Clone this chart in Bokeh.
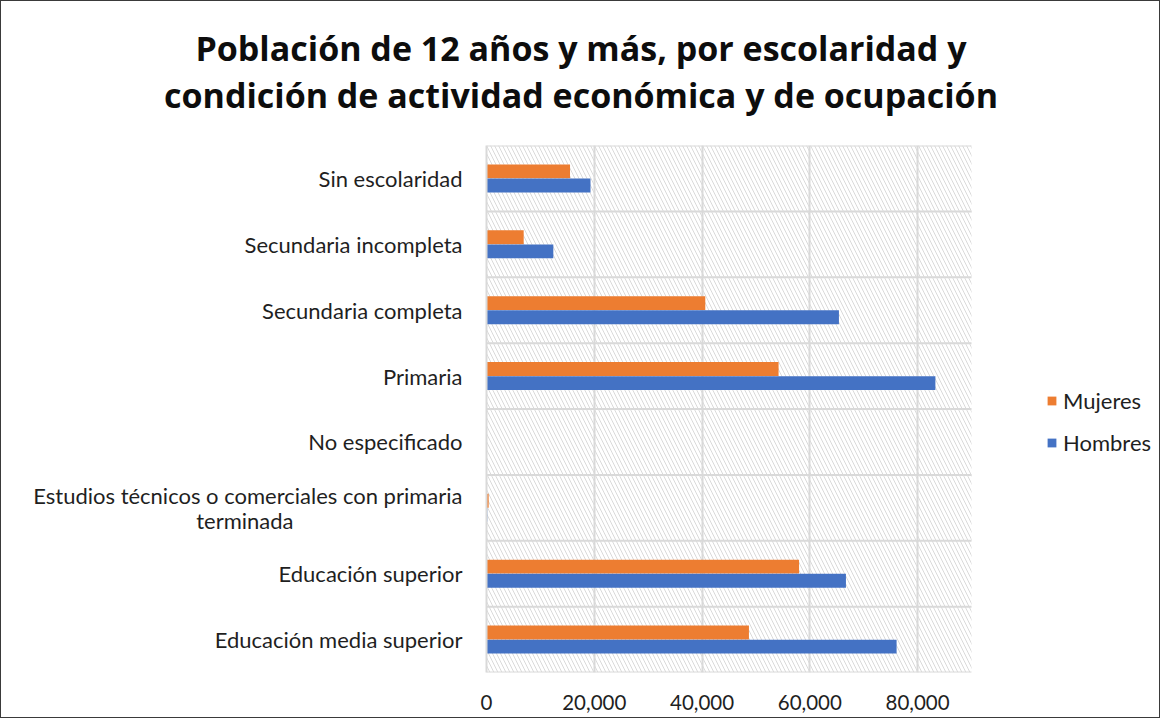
from bokeh.plotting import figure
from bokeh.layouts import column
from bokeh.models import (FactorRange, Range1d, BoxAnnotation, Legend, LegendItem, Div,
                          NumeralTickFormatter, FixedTicker, ColumnDataSource)
from bokeh.transform import dodge
from bokeh.embed import file_html
from bokeh.resources import INLINE

categories = [
    "Educación media superior",
    "Educación superior",
    "Estudios técnicos o comerciales con primaria\nterminada",
    "No especificado",
    "Primaria",
    "Secundaria completa",
    "Secundaria incompleta",
    "Sin escolaridad",
]
mujeres = [48700, 58000, 400, 0, 54200, 40600, 6900, 15500]
hombres = [76100, 66700, 150, 0, 83300, 65400, 12400, 19300]
x_ticks = [0, 20000, 40000, 60000, 80000]
x_max = 90000
title_lines = ["Población de 12 años y más, por escolaridad y",
               "condición de actividad económica y de ocupación"]
series_names = ["Mujeres", "Hombres"]
colors = ["#ED7D31", "#4472C4"]

FONT = "Lato"
TFONT = "Open Sans"
TXT = "#1f1f1f"
BORDER = "1.5px solid #3a3a3a"

# layout (pixels)
W, H = 1160, 718
TITLE_H = 140
LEFT, TOP, BOTTOM = 485, 5, 46
PLOT_W = 485                      # width of the hatched plot area
x_end = x_max * (W - LEFT) / PLOT_W   # frame continues to the right to host the legend

# the wrapped label's second line is centred under the first one in the reference:
# pad it so that a right-aligned axis label puts it there
factors = [c + "\u00a0" * 30 if "\n" in c else c for c in categories]

src = ColumnDataSource(dict(cat=factors, mujeres=mujeres, hombres=hombres))

title_div = Div(
    text=(f'<div style="font-family:\'{TFONT}\';font-weight:700;font-size:34px;line-height:47px;'
          f'color:#0d0d0d;text-align:center;padding:24px 0 0 26px;width:{W - 26}px;">'
          f'{title_lines[0]}<br>{title_lines[1]}</div>'),
    width=W, height=TITLE_H, margin=0,
    styles={"border": BORDER, "border-bottom": "none", "box-sizing": "border-box",
            "background-color": "white"})

p = figure(width=W, height=H - TITLE_H, y_range=FactorRange(*factors), x_range=Range1d(0, x_end),
           output_backend="svg", toolbar_location=None, title_location=None,
           min_border_left=LEFT, min_border_right=0, min_border_top=TOP, min_border_bottom=BOTTOM)
p.styles = {"border": BORDER, "border-top": "none", "box-sizing": "border-box"}
p.outline_line_color = None
p.background_fill_color = "white"
p.border_fill_color = "white"

# hatch background of the plot area
p.add_layout(BoxAnnotation(left=0, right=x_max, fill_alpha=0, line_alpha=0, hatch_pattern="\\",
                           hatch_color="#dadada", hatch_scale=8, hatch_weight=1, hatch_alpha=1,
                           level="underlay"))

p.ygrid.grid_line_color = None
p.xgrid.ticker = FixedTicker(ticks=x_ticks)
p.xgrid.grid_line_color = "#d9d9d9"
p.xgrid.grid_line_width = 2
bounds = list(range(len(categories) + 1))
p.segment(x0=[0] * len(bounds), x1=[x_max] * len(bounds), y0=bounds, y1=bounds,
          line_color="#d9d9d9", line_width=2, level="underlay")

r_m = p.hbar(y=dodge("cat", 0.107, range=p.y_range), right="mujeres", height=0.21, source=src,
             fill_color=colors[0], line_color=None)
r_h = p.hbar(y=dodge("cat", -0.107, range=p.y_range), right="hombres", height=0.21, source=src,
             fill_color=colors[1], line_color=None)

# axes
p.xaxis.ticker = FixedTicker(ticks=x_ticks)
p.xaxis.formatter = NumeralTickFormatter(format="0,0")
p.xaxis.axis_line_color = None
p.xaxis.major_tick_line_color = None
p.xaxis.minor_tick_line_color = None
p.xaxis.major_label_standoff = 16
p.xaxis.major_label_text_font = FONT
p.xaxis.major_label_text_font_size = "20.5px"
p.xaxis.major_label_text_color = TXT

p.yaxis.axis_line_color = "#d9d9d9"
p.yaxis.axis_line_width = 2
p.yaxis.major_tick_line_color = None
p.yaxis.minor_tick_line_color = None
p.yaxis.major_label_standoff = 18
p.yaxis.major_label_text_font = FONT
p.yaxis.major_label_text_font_size = "22px"
p.yaxis.major_label_text_line_height = 0.94
p.yaxis.major_label_text_color = TXT

# legend (inside the frame, right of the plot area)
legend = Legend(items=[LegendItem(label=series_names[0], renderers=[r_m]),
                       LegendItem(label=series_names[1], renderers=[r_h])],
                location=(560, 216), border_line_color=None, background_fill_alpha=0,
                glyph_width=11, glyph_height=11, label_text_font=FONT, label_text_font_size="22px",
                label_text_color=TXT, label_height=22, spacing=15, padding=0, margin=0,
                label_standoff=6)
p.add_layout(legend, "center")

layout = column(title_div, p, spacing=0)

open("out.html", "w").write(file_html(layout, INLINE))
